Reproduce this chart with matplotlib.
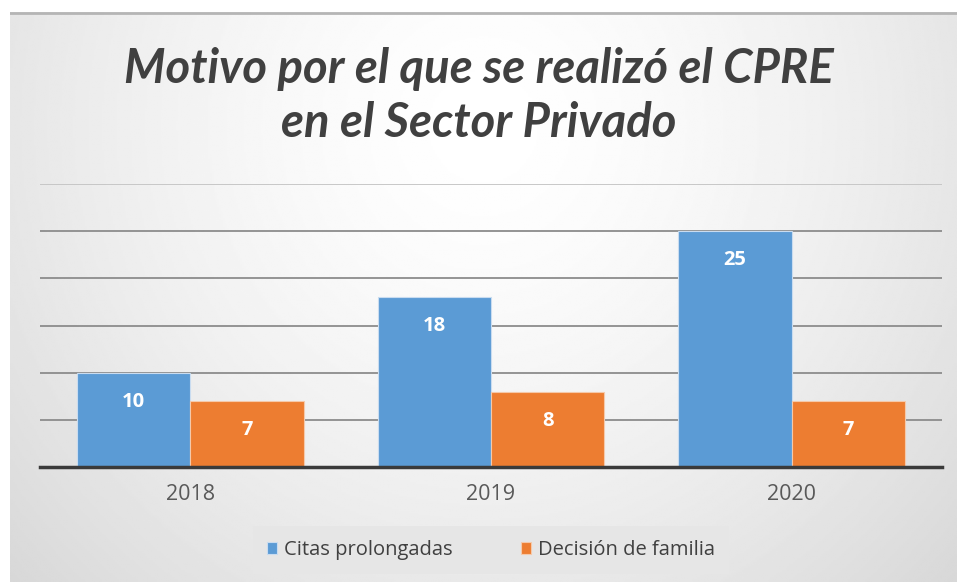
import matplotlib.pyplot as plt
import numpy as np

years = ["2018", "2019", "2020"]
citas = [10, 18, 25]
decision = [7, 8, 7]
series_names = ["Citas prolongadas", "Decisión de familia"]
title = "Motivo por el que se realizó el CPRE\nen el Sector Privado"

blue = "#5b9bd5"
orange = "#ed7d31"

fig = plt.figure(figsize=(9.57, 5.82), dpi=100)
fig.patch.set_facecolor("white")

# gradient background panel
bg = fig.add_axes([10 / 957, 0, 947 / 957, 570 / 582])
yy, xx = np.mgrid[0:1:300j, 0:1:500j]
r = np.sqrt(((xx - 0.5) / 0.7) ** 2 + ((yy - 0.2) / 1.2) ** 2)
shade = 1.0 - 0.16 * np.clip(r, 0, 1) ** 1.5
bg.imshow(shade, cmap="gray", vmin=0, vmax=1, aspect="auto", extent=[0, 1, 1, 0])
bg.set_axis_off()
bg.plot([0, 1], [0.998, 0.998], color="#b5b5b5", lw=2, transform=bg.transAxes)

ax = fig.add_axes([40 / 957, (582 - 467) / 582, 902 / 957, 283 / 582])
ax.patch.set_alpha(0)

x = np.arange(len(years))
w = 0.377
b1 = ax.bar(x - w / 2, citas, w, color=blue, edgecolor="#c9dcf0", linewidth=0.8,
            label=series_names[0], zorder=3)
b2 = ax.bar(x + w / 2, decision, w, color=orange, edgecolor="#f5c9aa", linewidth=0.8,
            label=series_names[1], zorder=3)

for bars in (b1, b2):
    for rect in bars:
        ax.annotate(str(int(rect.get_height())),
                    (rect.get_x() + rect.get_width() / 2, rect.get_height()),
                    xytext=(0, -21), textcoords="offset points",
                    ha="center", va="center", color="white",
                    fontsize=14.5, fontweight="bold", family="Open Sans", zorder=4)

ax.set_xlim(-0.5, 2.5)
ax.set_ylim(0, 30)
ax.set_yticks(np.arange(5, 31, 5))
ax.yaxis.grid(True, color="#8c8c8c", lw=1.3, zorder=1)
ax.get_ygridlines()[-1].set_color("#c4c4c4")
ax.tick_params(axis="y", length=0, labelleft=False)
ax.set_xticks(x)
ax.set_xticklabels(years, fontsize=15.5, color="#595959", family="Open Sans")
ax.tick_params(axis="x", length=0, pad=12)
for s in ["top", "right", "left"]:
    ax.spines[s].set_visible(False)
ax.spines["bottom"].set_color("#3a3a3a")
ax.spines["bottom"].set_linewidth(2.5)
ax.spines["bottom"].set_zorder(5)

fig.text(0.5, 1 - 96 / 582, title, ha="center", va="center", fontsize=34,
         fontweight="bold", fontstyle="italic", color="#404040",
         family=["Lato", "DejaVu Sans"], linespacing=1.3)

leg = fig.legend(loc="center", bbox_to_anchor=(491 / 957, 1 - 550 / 582), ncol=2,
                 frameon=True, handlelength=0.5, handleheight=0.5,
                 handletextpad=0.35, columnspacing=3.4, borderpad=0.7,
                 prop={"family": "Open Sans", "size": 14.5})
leg.get_frame().set_facecolor("#e6e6e6")
leg.get_frame().set_edgecolor("none")
leg.get_frame().set_alpha(1)
leg.get_frame().set_boxstyle("square", pad=0)
for t in leg.get_texts():
    t.set_color("#404040")

fig.savefig("out.png", dpi=100)
